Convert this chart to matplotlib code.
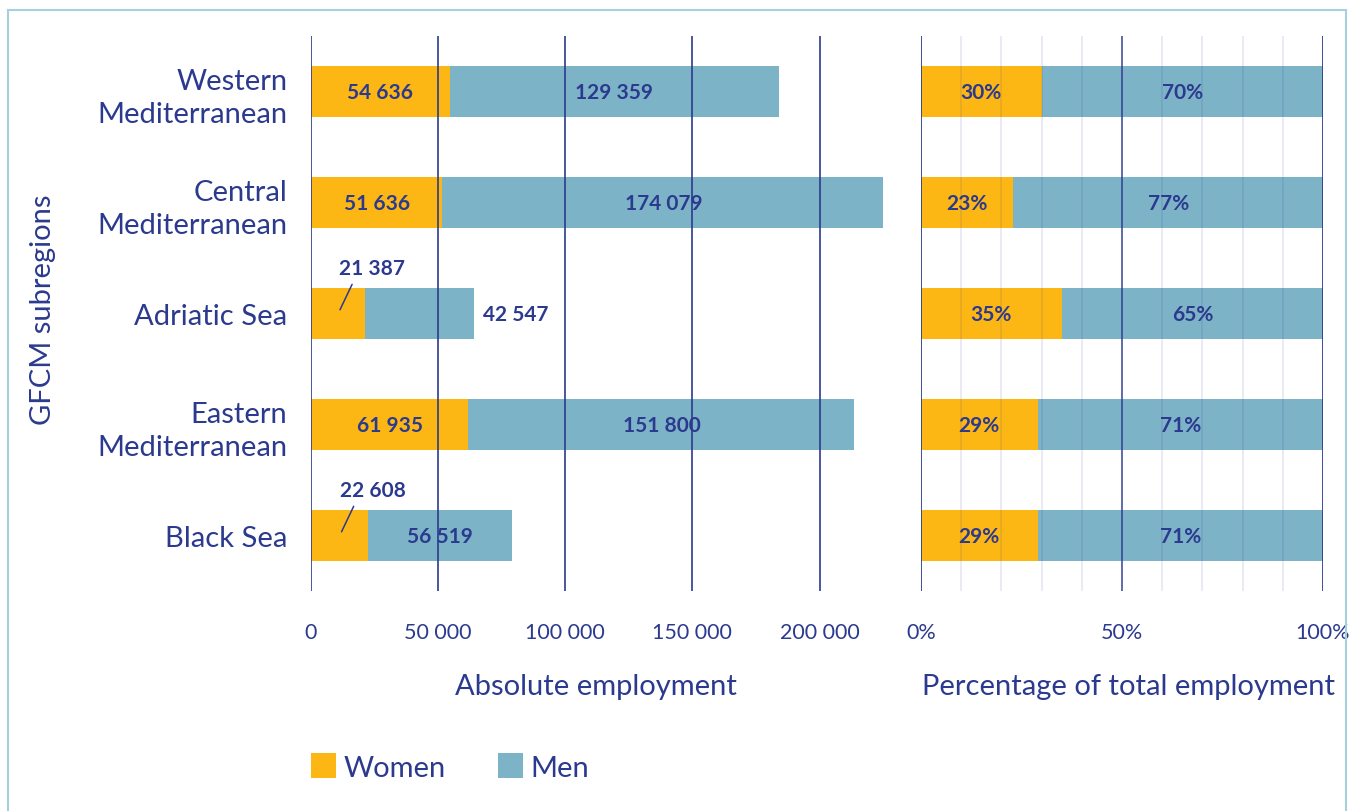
import matplotlib
matplotlib.use("Agg")
import matplotlib.pyplot as plt
from matplotlib.patches import Patch, Rectangle
import numpy as np

plt.rcParams['font.family'] = ['Lato', 'DejaVu Sans']

# data
regions = ["Western\nMediterranean", "Central\nMediterranean", "Adriatic Sea",
           "Eastern\nMediterranean", "Black Sea"]
women = [54636, 51636, 21387, 61935, 22608]
men = [129359, 174079, 42547, 151800, 56519]
women_pct = [30, 23, 35, 29, 29]
men_pct = [70, 77, 65, 71, 71]
abs_ticks = [0, 50000, 100000, 150000, 200000]
pct_ticks = [0, 50, 100]

navy = '#2b3a8e'
orange = '#fdb714'
blue = '#7db3c7'

def fmt(v):
    return f"{v:,}".replace(",", " ")

fig = plt.figure(figsize=(13.54, 8.12), dpi=100)
ax1 = fig.add_axes([0.2297, 0.2709, 0.4225, 0.6835])
ax2 = fig.add_axes([0.6802, 0.2709, 0.2969, 0.6835])

y = np.arange(len(regions))
h = 0.46

# left panel: absolute employment
ax1.barh(y, women, height=h, color=orange, zorder=2)
ax1.barh(y, men, left=women, height=h, color=blue, zorder=2)
ax1.set_xlim(0, 225000)
ax1.set_ylim(4.5, -0.5)
ax1.set_xticks(abs_ticks)
ax1.set_xticklabels([fmt(t) for t in abs_ticks])
ax1.set_yticks(y)
ax1.set_yticklabels(regions, fontsize=21, color=navy, ha='right', linespacing=1.35)
ax1.tick_params(axis='y', length=0, pad=17)
for t in abs_ticks:
    ax1.axvline(t, color=navy, lw=1.4, alpha=0.85, zorder=3)

for i in range(len(regions)):
    w, m = women[i], men[i]
    if w < 30000:
        # small women bar: label above with a leader line
        ax1.annotate('', xy=(w / 2, i), xytext=(10, 21), textcoords='offset points',
                     arrowprops=dict(arrowstyle='-', color=navy, lw=1.1,
                                     shrinkA=0, shrinkB=3), zorder=5)
        ax1.annotate(fmt(w), xy=(w / 2, i), xytext=(24, 33), textcoords='offset points',
                     ha='center', va='center', fontsize=15, fontweight='bold',
                     color=navy, zorder=5)
    else:
        ax1.text(w / 2, i, fmt(w), ha='center', va='center', fontsize=15,
                 fontweight='bold', color=navy, zorder=5)
    if m < 50000:
        ax1.annotate(fmt(m), xy=(w + m, i), xytext=(7, 0), textcoords='offset points',
                     ha='left', va='center', fontsize=15, fontweight='bold',
                     color=navy, zorder=5)
    else:
        ax1.text(w + m / 2, i, fmt(m), ha='center', va='center', fontsize=15,
                 fontweight='bold', color=navy, zorder=5)

# right panel: percentage
ax2.barh(y, women_pct, height=h, color=orange, zorder=2)
ax2.barh(y, men_pct, left=women_pct, height=h, color=blue, zorder=2)
ax2.set_xlim(0, 100)
ax2.set_ylim(4.5, -0.5)
ax2.set_xticks(pct_ticks)
ax2.set_xticklabels([f"{t}%" for t in pct_ticks])
ax2.set_yticks([])
for t in range(10, 100, 10):
    if t != 50:
        ax2.axvline(t, color=navy, lw=1.2, alpha=0.12, zorder=3)
for t in pct_ticks:
    ax2.axvline(t, color=navy, lw=1.4, alpha=0.75 if t == 50 else 0.9, zorder=3)
for i in range(len(regions)):
    ax2.text(women_pct[i] / 2, i, f"{women_pct[i]}%", ha='center', va='center',
             fontsize=15, fontweight='bold', color=navy, zorder=5)
    ax2.text(women_pct[i] + men_pct[i] / 2, i, f"{men_pct[i]}%", ha='center',
             va='center', fontsize=15, fontweight='bold', color=navy, zorder=5)

for ax in (ax1, ax2):
    for s in ax.spines.values():
        s.set_visible(False)
    ax.tick_params(axis='x', length=0, pad=22, labelsize=15.5, labelcolor=navy)

fig.text(596 / 1354, (812 - 687) / 812, "Absolute employment", ha='center',
         va='center', fontsize=21, color=navy)
fig.text(1128 / 1354, (812 - 687) / 812, "Percentage of total employment",
         ha='center', va='center', fontsize=21, color=navy)
fig.text(43 / 1354, (812 - 310) / 812, "GFCM subregions", rotation=90,
         ha='center', va='center', fontsize=21, color=navy)

handles = [Patch(facecolor=orange, label='Women'), Patch(facecolor=blue, label='Men')]
leg = fig.legend(handles=handles, loc='center left',
                 bbox_to_anchor=(311 / 1354, (812 - 768) / 812), ncol=2,
                 frameon=False, fontsize=21, handlelength=0.86, handleheight=0.92,
                 handletextpad=0.25, columnspacing=1.8, borderpad=0, borderaxespad=0)
for t in leg.get_texts():
    t.set_color(navy)

fig.patches.append(Rectangle((8 / 1354, -0.02), 1338 / 1354, (812 - 11) / 812 + 0.02,
                             transform=fig.transFigure, fill=False,
                             edgecolor='#a7d0dd', lw=1.5))

fig.savefig("out.png", dpi=100)
